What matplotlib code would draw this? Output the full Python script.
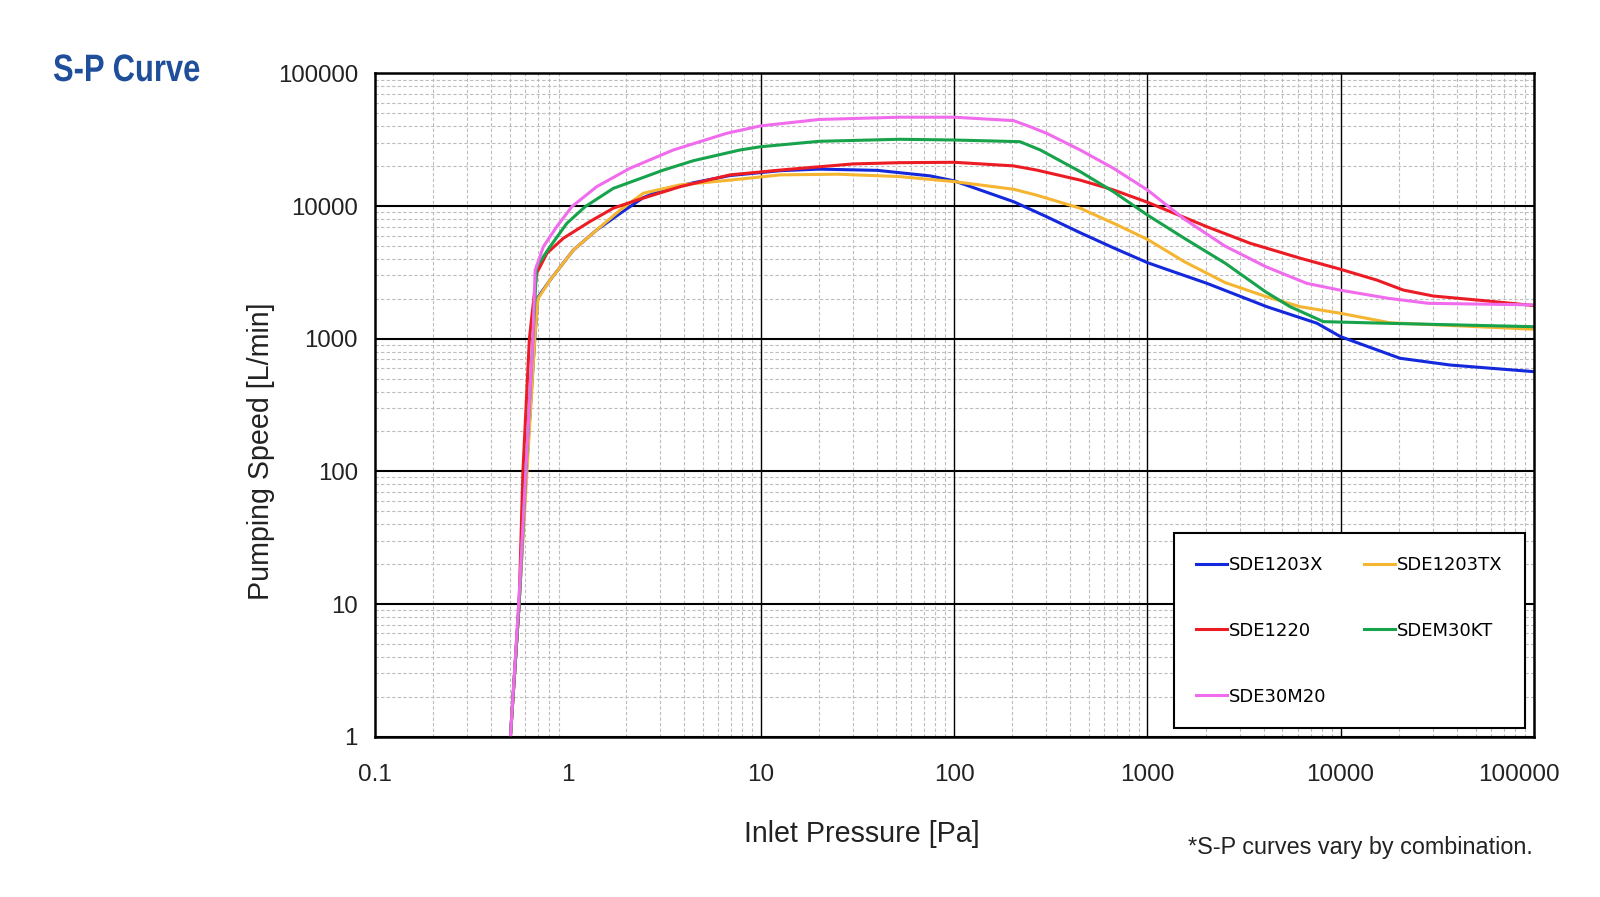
import numpy as np
import matplotlib.pyplot as plt
from matplotlib.ticker import LogLocator, NullFormatter, FixedLocator, FixedFormatter
from matplotlib.transforms import Affine2D, ScaledTranslation
from matplotlib.patheffects import AbstractPathEffect

# S-P curves (pressure in Pa, speed in L/min)
p_1203x = [0.505, 0.56, 0.61, 0.675, 0.70, 0.81, 1.07, 1.41, 1.87, 2.46, 3.13, 4.47, 6.92, 12.6, 20, 40, 75, 100,
           203, 301, 449, 667, 1000, 1211, 2030, 4150, 7540, 10000, 20300, 36900, 100000]
s_1203x = [1, 10, 100, 1000, 2050, 2770, 4670, 6600, 8830, 11600, 13300, 15000, 17000, 18500, 19000, 18600, 16900, 15500,
           10800, 8320, 6300, 4850, 3750, 3400, 2620, 1745, 1310, 1037, 713, 634, 565]

p_1203tx = [0.505, 0.56, 0.615, 0.675, 0.70, 0.81, 1.07, 1.41, 1.87, 2.46, 3.81, 6.92, 12.6, 25, 52, 100,
            203, 267, 449, 667, 1000, 1560, 2530, 4110, 6180, 10000, 18000, 100000]
s_1203tx = [1, 10, 100, 1000, 2000, 2770, 4670, 6600, 9350, 12500, 14450, 15700, 17200, 17400, 16700, 15300,
            13400, 12100, 9640, 7430, 5620, 3800, 2650, 2080, 1745, 1556, 1320, 1180]

p_1220 = [0.505, 0.56, 0.586, 0.633, 0.69, 0.78, 0.948, 1.30, 1.72, 2.28, 3.81, 6.92, 12.6, 30, 52, 100,
          203, 267, 449, 667, 1000, 2030, 3400, 6180, 10000, 15400, 21100, 30200, 54800, 100000]
s_1220 = [1, 10, 100, 1000, 3120, 4410, 5720, 7640, 9640, 11100, 14000, 17200, 18700, 20800, 21250, 21400,
          20100, 18700, 15700, 13250, 10700, 7000, 5250, 4050, 3340, 2770, 2330, 2100, 1940, 1780]

p_m30kt = [0.505, 0.56, 0.607, 0.66, 0.69, 0.81, 0.99, 1.23, 1.72, 3.13, 4.47, 7.8, 9.9, 20, 52, 100,
           219, 279, 449, 667, 1000, 1560, 2530, 4110, 5480, 8150, 16700, 100000]
s_m30kt = [1, 10, 100, 1000, 3490, 4950, 7430, 9900, 13600, 18700, 22000, 26500, 28000, 30800, 31900, 31500,
           30600, 26500, 18200, 12850, 8570, 5700, 3710, 2250, 1745, 1346, 1310, 1233]

p_30m20 = [0.505, 0.557, 0.607, 0.66, 0.678, 0.748, 0.877, 1.05, 1.41, 2.1, 3.52, 6.65, 9.9, 20, 52, 100,
           203, 247, 301, 449, 667, 1000, 1550, 2520, 4110, 6670, 9870, 17600, 28500, 100000]
s_30m20 = [1, 10, 100, 1000, 3290, 4950, 7000, 9900, 14000, 19300, 26500, 35400, 40200, 45000, 46800, 46800,
           44100, 39700, 35400, 26500, 19300, 13250, 8000, 5000, 3490, 2620, 2330, 2020, 1850, 1800]

x_ticks = [0.1, 1, 10, 100, 1000, 10000, 100000]
x_labels = ['0.1', '1', '10', '100', '1000', '10000', '100000']
y_ticks = [1, 10, 100, 1000, 10000, 100000]
y_labels = ['1', '10', '100', '1000', '10000', '100000']
x_major_lines = [10, 100, 1000, 10000]


class Condense(AbstractPathEffect):
    # squeeze glyphs horizontally (the heading uses a condensed face)
    def __init__(self, sx):
        super().__init__()
        self.sx = sx

    def draw_path(self, renderer, gc, tpath, affine, rgbFace=None):
        renderer.draw_path(gc, tpath, Affine2D().scale(self.sx, 1) + affine, rgbFace)


plt.rcParams['font.family'] = ['Liberation Sans', 'DejaVu Sans']

fig = plt.figure(figsize=(16, 8.97), dpi=100)
ax = fig.add_axes([0.2341, 0.1787, 0.7245, 0.7394])
ax.set_xscale('log')
ax.set_yscale('log')
ax.set_xlim(0.1, 100000)
ax.set_ylim(1, 100000)

# grid
ax.xaxis.set_minor_locator(LogLocator(base=10, subs=np.arange(2, 10)))
ax.yaxis.set_minor_locator(LogLocator(base=10, subs=np.arange(2, 10)))
ax.xaxis.set_minor_formatter(NullFormatter())
ax.yaxis.set_minor_formatter(NullFormatter())
ax.grid(which='minor', color='#bdbdbd', linestyle=(0, (3, 2)), linewidth=0.8)
ax.yaxis.grid(which='major', color='black', linewidth=1.5)
for xv in x_major_lines:
    ax.axvline(xv, color='black', linewidth=1.0, zorder=1)
ax.set_axisbelow(True)

lw = 2.2
l1, = ax.plot(p_1203x, s_1203x, color='#1428dc', lw=lw, label='SDE1203X')
l2, = ax.plot(p_1203tx, s_1203tx, color='#f5b531', lw=lw, label='SDE1203TX')
l3, = ax.plot(p_1220, s_1220, color='#ec1c24', lw=lw, label='SDE1220')
l4, = ax.plot(p_m30kt, s_m30kt, color='#17a24c', lw=lw, label='SDEM30KT')
l5, = ax.plot(p_30m20, s_30m20, color='#f06cec', lw=lw, label='SDE30M20')

ax.xaxis.set_major_locator(FixedLocator(x_ticks))
ax.xaxis.set_major_formatter(FixedFormatter(x_labels))
ax.yaxis.set_major_locator(FixedLocator(y_ticks))
ax.yaxis.set_major_formatter(FixedFormatter(y_labels))
ax.tick_params(which='both', length=0)
ax.tick_params(axis='x', pad=20, labelsize=17.5, labelcolor='#222222')
ax.tick_params(axis='y', pad=12, labelsize=17.3, labelcolor='#222222')
for sp in ax.spines.values():
    sp.set_linewidth(1.8)
    sp.set_color('black')

fig.canvas.draw()
last = ax.get_xticklabels()[-1]
last.set_transform(last.get_transform() + ScaledTranslation(-11 / 72, 0, fig.dpi_scale_trans))

leg = ax.legend([l1, l3, l5, l2, l4], ['SDE1203X', 'SDE1220', 'SDE30M20', 'SDE1203TX', 'SDEM30KT'],
                ncol=2, loc='upper left', bbox_to_anchor=(0.7335, 0.4055),
                bbox_transform=fig.transFigure, prop={'family': 'DejaVu Sans', 'size': 13},
                handlelength=1.7, handletextpad=0.1, labelspacing=2.65, columnspacing=2.1,
                borderpad=1.25, borderaxespad=0, fancybox=False, framealpha=1, edgecolor='black')
leg.get_frame().set_linewidth(1.5)

fig.text(53 / 1600, 1 - 71 / 897, 'S-P Curve', fontsize=27.5, fontweight='bold', color='#1f4e9a',
         va='center', ha='left', path_effects=[Condense(0.81)])
fig.text(261 / 1600, 1 - 451 / 897, 'Pumping Speed [L/min]', fontsize=20.6, rotation=90,
         va='center', ha='center', color='#222222')
fig.text(862 / 1600, 1 - 834 / 897, 'Inlet Pressure [Pa]', fontsize=20.6,
         va='center', ha='center', color='#222222')
fig.text(1533 / 1600, 1 - 847 / 897, '*S-P curves vary by combination.', fontsize=16.8,
         va='center', ha='right', color='#222222')

fig.savefig('out.png', dpi=100)
